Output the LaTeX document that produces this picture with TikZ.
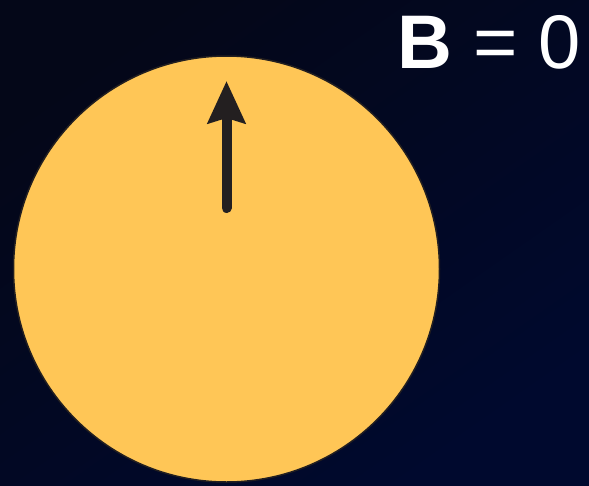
\documentclass[tikz,border=0pt]{standalone}
\usepackage{fontspec}
\setmainfont{Liberation Sans}
\usetikzlibrary{arrows.meta}

\definecolor{bgdark}{RGB}{4,7,24}
\definecolor{bgnavy}{RGB}{0,9,46}
\definecolor{sunfill}{RGB}{255,198,86}
\definecolor{inkdark}{RGB}{35,31,32}

\begin{document}
\begin{tikzpicture}[x=1pt, y=-1pt]
        % Nền tối chuyển màu (589 x 485)
        \def\W{589}
        \def\H{485}
        \shade[top color=bgdark, bottom color=bgnavy, shading angle=35]
                (0,0) rectangle (\W,\H);
        \useasboundingbox (0,0) rectangle (\W,\H);

        % Hình tròn màu vàng
        \node[circle, draw=inkdark, line width=1.5pt, fill=sunfill,
              minimum size=426pt, inner sep=0pt] (disk) at (226.5,269) {};

        % Mũi tên hướng lên
        \coordinate (tail) at (226.5,208);
        \coordinate (tip) at (226.5,81);
        \draw[inkdark, line width=10pt, line cap=round,
              -{Stealth[length=42pt, width=37pt, inset=5pt]}] (tail) -- (tip);

        % Nhãn
        \node[anchor=base east, text=white, font=\fontsize{76}{80}\selectfont,
              inner sep=0pt] (label) at (581,68) {\textbf{B} = 0};
\end{tikzpicture}
\end{document}
